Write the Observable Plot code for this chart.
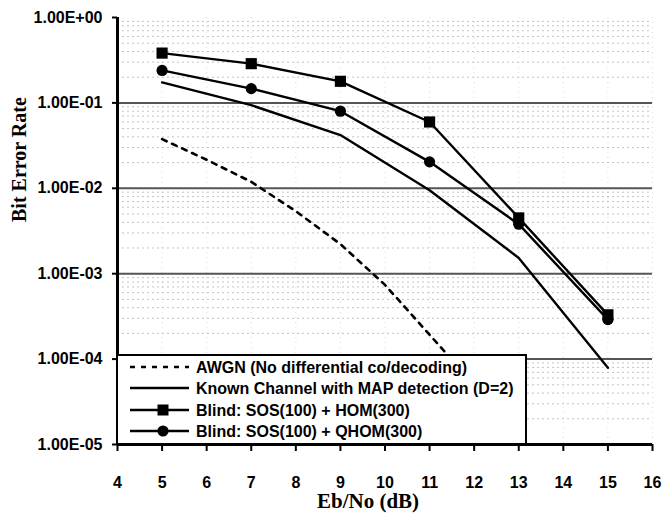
<!DOCTYPE html>
<html><head><meta charset="utf-8">
<script src="https://cdn.jsdelivr.net/npm/d3@7"></script>
<script src="https://cdn.jsdelivr.net/npm/@observablehq/plot@0.6"></script>
<style>
body{margin:0;background:#fff;}
#chart{position:relative;width:664px;height:514px;}
#legend{position:absolute;left:116px;top:354px;}
</style></head><body><div id="chart"></div>
<script>
// ---- data ----
const ebno = [5, 7, 9, 11, 13, 15];
const awgnX = [5, 6, 7, 8, 9, 10, 11, 12];
const awgnBer = [0.0376, 0.0216, 0.0119, 0.0054, 0.00222, 0.00074, 0.000193, 0.00005];
const knownBer = [0.174, 0.094, 0.042, 0.0095, 0.00153, 0.000079];
const homBer = [0.383, 0.288, 0.179, 0.0598, 0.0045, 0.00033];
const qhomBer = [0.240, 0.147, 0.080, 0.0204, 0.0038, 0.00029];
const xTicks = [4, 5, 6, 7, 8, 9, 10, 11, 12, 13, 14, 15, 16];
const yTicks = [1, 0.1, 0.01, 0.001, 0.0001, 0.00001];
const legendLabels = [
  "AWGN (No differential co/decoding)",
  "Known Channel with MAP detection (D=2)",
  "Blind: SOS(100) + HOM(300)",
  "Blind: SOS(100) + QHOM(300)"
];
const xTitle = "Eb/No (dB)";
const yTitle = "Bit Error Rate";

// ---- tables ----
const awgn = awgnX.map((x, i) => ({x, y: awgnBer[i]}));
const known = ebno.map((x, i) => ({x, y: knownBer[i]}));
const hom = ebno.map((x, i) => ({x, y: homBer[i]}));
const qhom = ebno.map((x, i) => ({x, y: qhomBer[i]}));
const minor = [];
yTicks.slice(1).forEach(d => { for (let k = 2; k <= 9; k++) minor.push(d * k); });

const fmt = d => {
  const e = Math.round(Math.log10(d));
  return "1.00E" + (e < 0 ? "-" : "+") + String(Math.abs(e)).padStart(2, "0");
};
const serif = "'Liberation Serif','Times New Roman',serif";

const plot = Plot.plot({
  width: 664, height: 514,
  marginLeft: 117, marginRight: 12, marginTop: 17, marginBottom: 70,
  style: {fontFamily: "'Liberation Sans',Arial,sans-serif", fontSize: "16px", fontWeight: "bold", color: "black", background: "white"},
  x: {domain: [4, 16]},
  y: {type: "log", domain: [1e-5, 1]},
  marks: [
    Plot.ruleX(xTicks.slice(1), {stroke: "#999", strokeDasharray: "1,4", strokeOpacity: 0.35}),
    Plot.ruleY(minor, {stroke: "#888", strokeDasharray: "2,3", strokeOpacity: 0.5}),
    Plot.ruleY(yTicks.slice(1, 5), {stroke: "#555", strokeWidth: 2}),
    Plot.line(awgn, {x: "x", y: "y", stroke: "black", strokeWidth: 2.6, strokeDasharray: "5,6"}),
    Plot.line(known, {x: "x", y: "y", stroke: "black", strokeWidth: 2.4}),
    Plot.line(hom, {x: "x", y: "y", stroke: "black", strokeWidth: 2.4}),
    Plot.line(qhom, {x: "x", y: "y", stroke: "black", strokeWidth: 2.4}),
    Plot.dot(hom, {x: "x", y: "y", symbol: "square", r: 6.3, fill: "black", stroke: "none"}),
    Plot.dot(qhom, {x: "x", y: "y", symbol: "circle", r: 5.6, fill: "black", stroke: "none"}),
    Plot.ruleX([4], {stroke: "black", strokeWidth: 3}),
    Plot.ruleY([1e-5], {stroke: "black", strokeWidth: 3}),
    Plot.axisX({ticks: xTicks, tickSize: 7, tickPadding: 25, tickFormat: d => d, strokeWidth: 2, label: null}),
    Plot.axisY({ticks: yTicks, tickSize: 5, tickPadding: 10, tickFormat: fmt, strokeWidth: 2, label: null}),
    Plot.text([yTitle], {frameAnchor: "left", dx: -98, dy: -9, rotate: -90, lineAnchor: "middle", fontFamily: serif, fontSize: 20, fontWeight: "bold", fill: "black"}),
    Plot.text([xTitle], {frameAnchor: "bottom", dx: -17, dy: 57, lineAnchor: "middle", fontFamily: serif, fontSize: 21, fontWeight: "bold", fill: "black"})
  ]
});
const chart = document.getElementById("chart");
chart.appendChild(plot);

// ---- legend (overlay inside the plot area) ----
const lw = 411, lh = 91;
const svg = d3.create("svg").attr("id", "legend").attr("width", lw).attr("height", lh)
  .style("font-family", "'Liberation Sans',Arial,sans-serif").style("font-size", "16px").style("font-weight", "bold");
svg.append("rect").attr("x", 1).attr("y", 1).attr("width", 409).attr("height", 89)
  .attr("fill", "white").attr("stroke", "black").attr("stroke-width", 2);
const rowsY = [13, 34, 56, 77];
legendLabels.forEach((lab, i) => {
  const g = svg.append("g").attr("transform", `translate(0,${rowsY[i]})`);
  const ln = g.append("line").attr("x1", 14).attr("x2", 73).attr("y1", 0).attr("y2", 0)
    .attr("stroke", "black").attr("stroke-width", 2.4);
  if (i === 0) ln.attr("stroke-dasharray", "5,6").attr("stroke-width", 2.6);
  if (i === 2) g.append("rect").attr("x", 47 - 5.5).attr("y", -5.5).attr("width", 11).attr("height", 11).attr("fill", "black");
  if (i === 3) g.append("circle").attr("cx", 47).attr("cy", 0).attr("r", 5.6).attr("fill", "black");
  g.append("text").attr("x", 80).attr("y", 0).attr("dy", "0.35em").text(lab);
});
chart.appendChild(svg.node());
</script>
</body></html>
